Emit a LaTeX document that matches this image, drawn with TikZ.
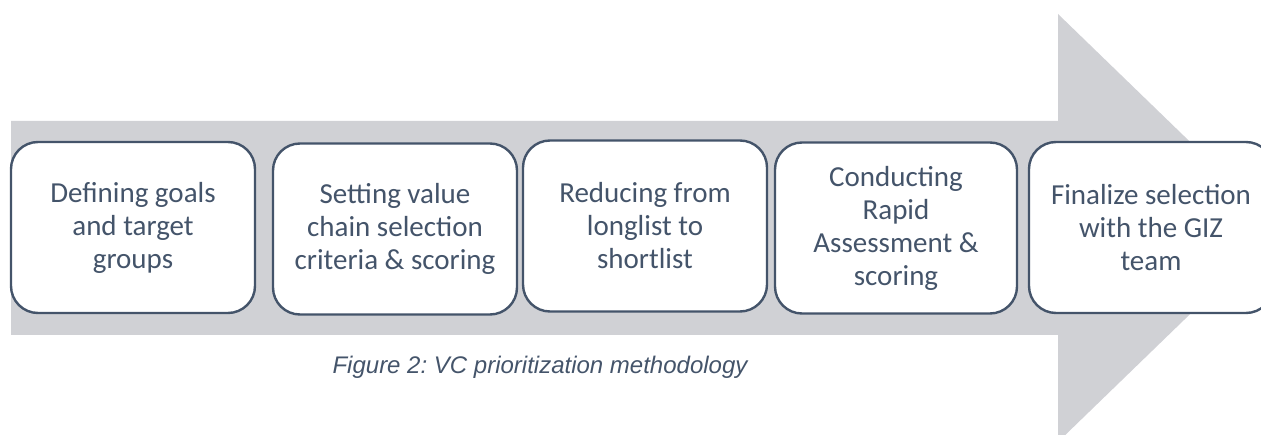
\documentclass[tikz,border=0pt]{standalone}
\usepackage{fontspec}
\setmainfont{Carlito}
\newfontfamily\captionfont{Liberation Sans}
\definecolor{shaftgray}{RGB}{208,209,213}
\definecolor{slateblue}{RGB}{68,84,106}
\frenchspacing
\begin{document}
\begin{tikzpicture}[x=1pt,y=-1pt, line join=round,
	stepbox/.style={draw=slateblue, fill=white, line width=2.4pt, rounded corners=27pt,
		minimum width=244pt, minimum height=171pt, inner sep=0pt, align=center,
		text=slateblue, font=\fontsize{29}{33}\selectfont}]
	\useasboundingbox (0,0) rectangle (1261,435);
	\clip (0,0) rectangle (1261,435);
	% big grey arrow behind the steps
	\fill[shaftgray] (11,121)--(1058,121)--(1058,14)--(1279,228)--(1058,442)--(1058,335)--(11,335)--cycle;
	\node[stepbox] (goals) at (133,227.5) {Defining goals\\and target\\groups};
	\node[stepbox] (criteria) at (395,229) {Setting value\\chain selection\\criteria \& scoring};
	\node[stepbox] (shortlist) at (645,226) {Reducing from\\longlist to\\shortlist};
	\node[stepbox,minimum width=242pt] (assessment) at (896,228) {Conducting\\Rapid\\Assessment \&\\scoring};
	\node[stepbox] (finalize) at (1151,227.5) {Finalize selection\\with the GIZ\\team};
	%\node at (540,374) {...};
	\node[anchor=base, text=slateblue, font=\captionfont\itshape\fontsize{24}{28}\selectfont] (caption) at (540,374) {Figure 2: VC prioritization methodology};
\end{tikzpicture}
\end{document}
